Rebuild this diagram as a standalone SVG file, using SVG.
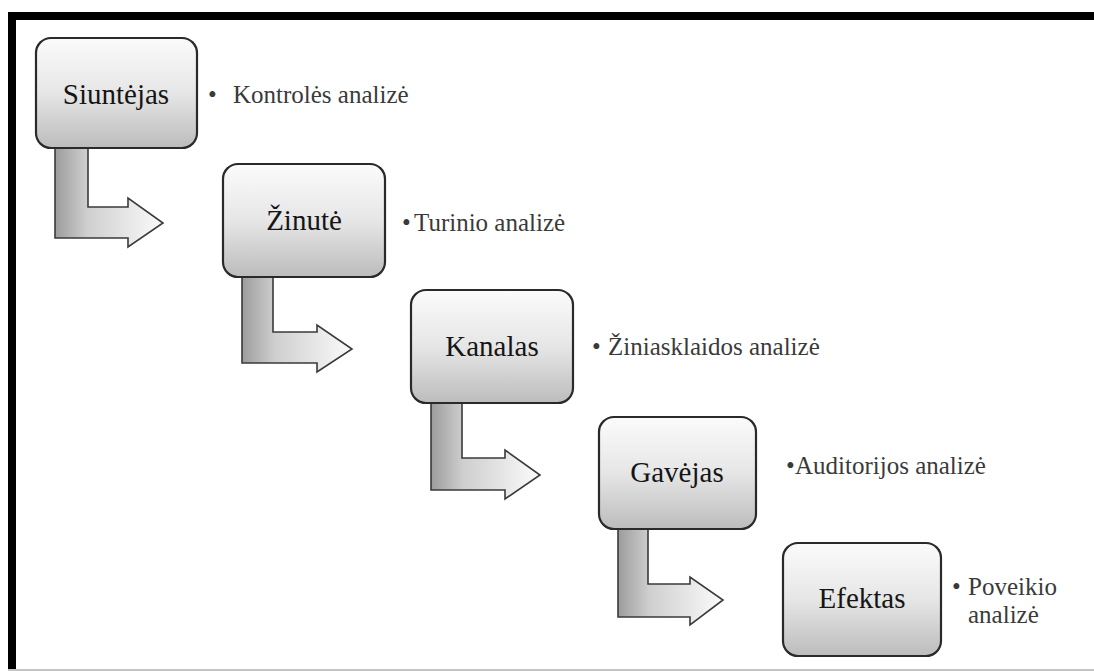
<svg xmlns="http://www.w3.org/2000/svg" width="1094" height="671" viewBox="0 0 1094 671">
  <defs>
    <linearGradient id="boxGrad" x1="0" y1="0" x2="0" y2="1">
      <stop offset="0" stop-color="#fbfbfb"/>
      <stop offset="0.5" stop-color="#e6e6e6"/>
      <stop offset="1" stop-color="#bcbcbc"/>
    </linearGradient>
    <linearGradient id="arrowGrad" x1="0" y1="0" x2="1" y2="0">
      <stop offset="0" stop-color="#9c9c9c"/>
      <stop offset="0.3" stop-color="#cfcfcf"/>
      <stop offset="1" stop-color="#fbfbfb"/>
    </linearGradient>
    <style>
      .box { fill: url(#boxGrad); stroke: #2a2a2a; stroke-width: 2.2; }
      .arrow { fill: url(#arrowGrad); stroke: #3a3a3a; stroke-width: 1.6; stroke-linejoin: miter; }
      .lbl { font-size: 29px; fill: #151515; text-anchor: middle; }
      .note { font-size: 25px; fill: #3a3a3a; }
    </style>
  </defs>

  <rect x="0" y="0" width="1094" height="671" fill="#ffffff"/>
  <!-- frame -->
  <rect x="8" y="12" width="1086" height="8" fill="#000000"/>
  <rect x="8" y="12" width="8" height="658" fill="#000000"/>
  <rect x="8" y="669" width="1086" height="2" fill="#c4c4c4"/>

  <g id="connectors">
    <path class="arrow" d="M55,140 L88,140 L88,207 L128,207 L128,198 L163,223 L128,247 L128,238 L55,238 Z"/>
    <path class="arrow" d="M242,268 L273,268 L273,332 L317,332 L317,325 L352,349 L317,372 L317,363 L242,363 Z"/>
    <path class="arrow" d="M431,395 L462,395 L462,458 L505,458 L505,450 L540,475 L505,499 L505,490 L431,490 Z"/>
    <path class="arrow" d="M618,521 L648,521 L648,584 L690,584 L690,577 L723,600 L690,625 L690,617 L618,617 Z"/>
  </g>

  <g font-family="Liberation Serif, Times New Roman, Tinos, DejaVu Serif, serif">
  <g id="node-siuntejas">
    <rect class="box" x="36" y="38" width="161" height="110" rx="15" ry="15"/>
    <text class="lbl" x="116" y="104">Siuntėjas</text>
    <text class="note" x="208" y="103">•</text>
    <text class="note" x="233" y="103">Kontrolės analizė</text>
  </g>

  <g id="node-zinute">
    <rect class="box" x="223" y="164" width="162" height="113" rx="15" ry="15"/>
    <text class="lbl" x="304" y="230">Žinutė</text>
    <text class="note" x="402" y="231">•</text>
    <text class="note" x="414" y="231">Turinio analizė</text>
  </g>

  <g id="node-kanalas">
    <rect class="box" x="411" y="290" width="162" height="113" rx="15" ry="15"/>
    <text class="lbl" x="492" y="356">Kanalas</text>
    <text class="note" x="592" y="355">•</text>
    <text class="note" x="608" y="355">Žiniasklaidos analizė</text>
  </g>

  <g id="node-gavejas">
    <rect class="box" x="599" y="417" width="157" height="112" rx="15" ry="15"/>
    <text class="lbl" x="677" y="482">Gavėjas</text>
    <text class="note" x="786" y="474">•</text>
    <text class="note" x="795" y="474">Auditorijos analizė</text>
  </g>

  <g id="node-efektas">
    <rect class="box" x="783" y="543" width="158" height="113" rx="15" ry="15"/>
    <text class="lbl" x="862" y="608">Efektas</text>
    <text class="note" x="952" y="595">•</text>
    <text class="note" x="968" y="595">Poveikio</text>
    <text class="note" x="968" y="623">analizė</text>
  </g>
  </g>
</svg>
